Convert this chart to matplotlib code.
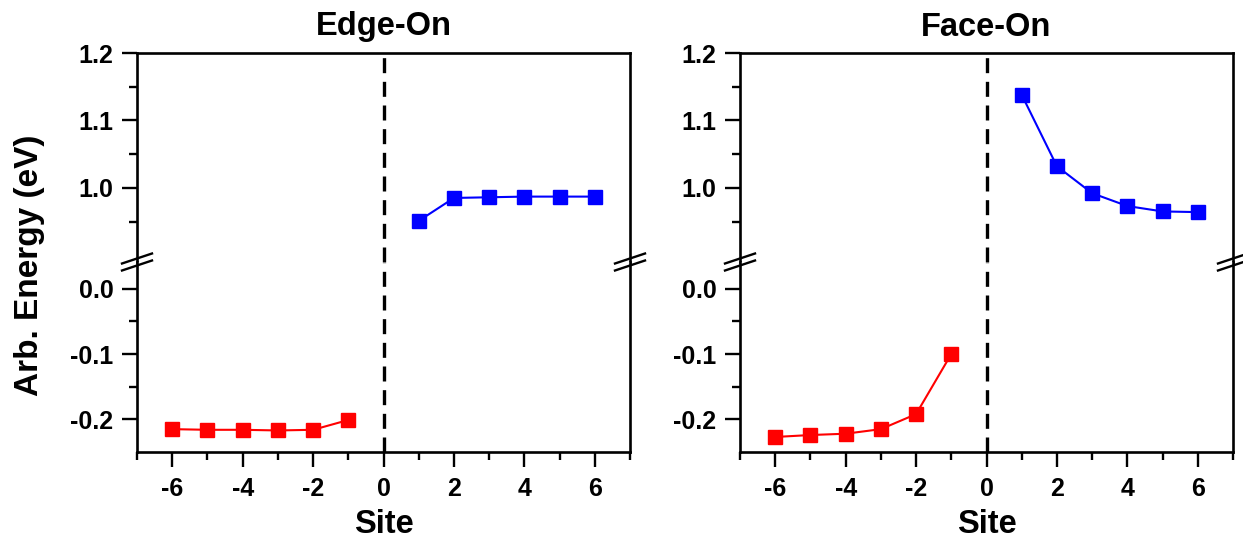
import matplotlib.pyplot as plt
from matplotlib.lines import Line2D
from matplotlib.ticker import MultipleLocator, FixedLocator

plt.rcParams['font.family'] = ['Liberation Sans', 'DejaVu Sans']
plt.rcParams['font.weight'] = 'bold'
plt.rcParams['axes.unicode_minus'] = False

# data
site_neg = [-6, -5, -4, -3, -2, -1]
site_pos = [1, 2, 3, 4, 5, 6]

edge_red = [-0.215, -0.216, -0.216, -0.217, -0.216, -0.201]
edge_blue = [0.951, 0.985, 0.986, 0.987, 0.987, 0.987]

face_red = [-0.227, -0.224, -0.222, -0.215, -0.192, -0.100]
face_blue = [1.138, 1.032, 0.992, 0.973, 0.965, 0.964]

titles = ["Edge-On", "Face-On"]
panels = [(edge_red, edge_blue), (face_red, face_blue)]

W, H = 1243, 544
fig = plt.figure(figsize=(W / 100, H / 100), dpi=100)

top_px, brk_px, bot_px = 53, 262, 452
lefts_px = [137, 740]
width_px = 493

y_top = 1 - top_px / H
y_brk = 1 - brk_px / H
y_bot = 1 - bot_px / H

for i in range(2):
    x0 = lefts_px[i] / W
    w = width_px / W
    ax_hi = fig.add_axes([x0, y_brk, w, y_top - y_brk])
    ax_lo = fig.add_axes([x0, y_bot, w, y_brk - y_bot])
    red, blue = panels[i]

    for ax in (ax_hi, ax_lo):
        ax.plot(site_neg, red, color='#ff0000', marker='s', markersize=10,
                lw=1.5, zorder=3)
        ax.plot(site_pos, blue, color='#0000ff', marker='s', markersize=10,
                lw=1.5, zorder=3)
        ax.axvline(0, color='black', lw=2.4, dashes=(4.5, 2.6), zorder=2)
        ax.set_xlim(-7, 7)
        for s in ax.spines.values():
            s.set_linewidth(1.9)
        ax.tick_params(axis='y', which='major', direction='out', length=11,
                       width=1.7, labelsize=18, pad=6)
        ax.tick_params(axis='y', which='minor', direction='out', length=6,
                       width=1.7)
        ax.xaxis.set_major_locator(MultipleLocator(2))
        ax.xaxis.set_minor_locator(MultipleLocator(1))

    ax_hi.set_ylim(0.89, 1.2)
    ax_hi.yaxis.set_major_locator(FixedLocator([1.0, 1.1, 1.2]))
    ax_hi.yaxis.set_minor_locator(FixedLocator([0.95, 1.05, 1.15]))
    ax_hi.spines['bottom'].set_visible(False)
    ax_hi.tick_params(axis='x', which='both', bottom=False, labelbottom=False)
    ax_hi.set_yticklabels(["1.0", "1.1", "1.2"])

    ax_lo.set_ylim(-0.25, 0.041)
    ax_lo.yaxis.set_major_locator(FixedLocator([-0.2, -0.1, 0.0]))
    ax_lo.yaxis.set_minor_locator(FixedLocator([-0.15, -0.05]))
    ax_lo.set_yticklabels(["-0.2", "-0.1", "0.0"])
    ax_lo.spines['top'].set_visible(False)
    ax_lo.tick_params(axis='x', which='major', direction='out', length=11,
                      width=1.7, labelsize=18, pad=7)
    ax_lo.tick_params(axis='x', which='minor', direction='out', length=6,
                      width=1.7)
    ax_lo.set_xlabel("Site", fontsize=23.5, fontweight='bold', labelpad=6)

    # panel title
    fig.text(x0 + w / 2, 1 - 27 / H, titles[i], ha='center', va='center',
             fontsize=23.5, fontweight='bold')

    # axis break marks on both side spines
    for xs in (lefts_px[i], lefts_px[i] + width_px):
        for off in (-3.5, 3.5):
            xa, xb = (xs - 15) / W, (xs + 15) / W
            ya, yb = (H - brk_px + off - 5) / H, (H - brk_px + off + 5) / H
            fig.add_artist(Line2D([xa, xb], [ya, yb], color='black', lw=1.7))

fig.text(30 / W, 1 - 265 / H, "Arb. Energy (eV)", rotation=90, ha='center',
         va='center', fontsize=24, fontweight='bold')

fig.savefig("out.png", dpi=100)
